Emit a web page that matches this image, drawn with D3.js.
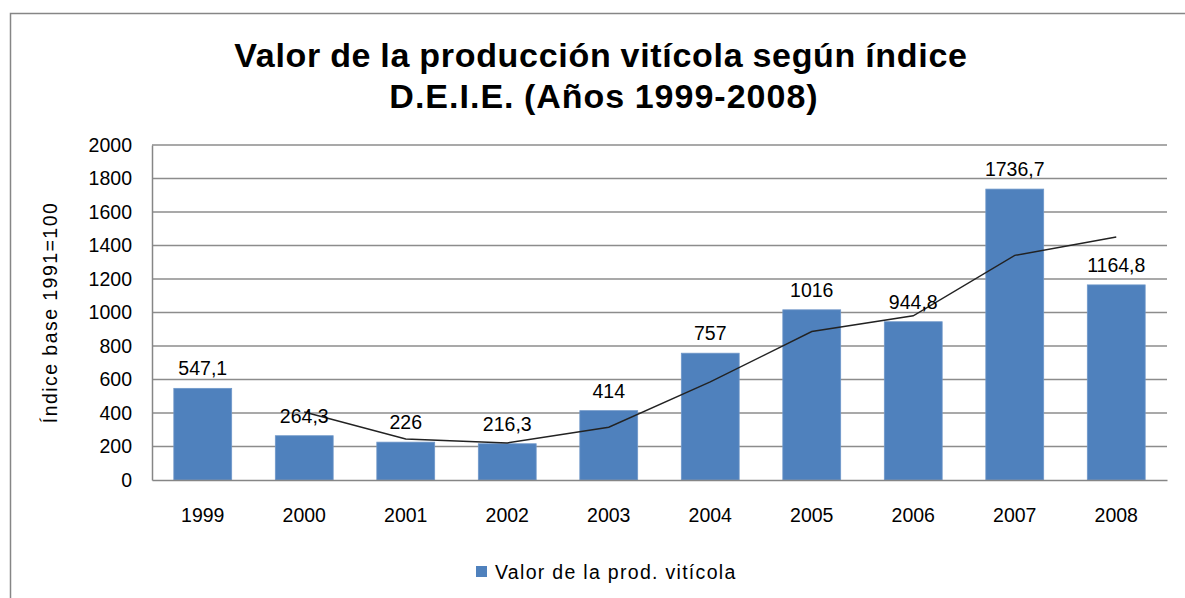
<!DOCTYPE html>
<html><head><meta charset="utf-8">
<script src="https://cdn.jsdelivr.net/npm/d3@7"></script>
<style>body{margin:0;background:#fff}svg{display:block;font-family:"Liberation Sans",Arial,sans-serif}</style>
</head><body><svg id="c" width="1185" height="598"></svg>
<script>
const years = ["1999","2000","2001","2002","2003","2004","2005","2006","2007","2008"];
const values = [547.1,264.3,226,216.3,414,757,1016,944.8,1736.7,1164.8];
const labels = ["547,1","264,3","226","216,3","414","757","1016","944,8","1736,7","1164,8"];
const trendYears = ["2000","2001","2002","2003","2004","2005","2006","2007","2008"];
const trendValues = [405.7,245.2,221.2,315.2,585.5,886.5,980.4,1340.8,1450.8];
const yTicks = [0,200,400,600,800,1000,1200,1400,1600,1800,2000];

const svg = d3.select("#c");
const m = {l:152, t:145, r:1167, b:480};
const FS = 19.5;
svg.append("rect").attr("x",10.5).attr("y",13.5).attr("width",1190).attr("height",600)
  .attr("fill","none").attr("stroke","#868686").attr("stroke-width",1.5);

const x = d3.scaleBand().domain(years).range([m.l,m.r]).paddingInner(0.43).paddingOuter(0.215);
const y = d3.scaleLinear().domain([0,2000]).range([m.b,m.t]);

// gridlines
svg.append("g").selectAll("line").data(yTicks.slice(1)).join("line")
  .attr("x1",m.l).attr("x2",m.r).attr("y1",d=>y(d)).attr("y2",d=>y(d))
  .attr("stroke","#8c8c8c").attr("stroke-width",1.3);

// bars
svg.append("g").selectAll("rect").data(values).join("rect")
  .attr("x",(d,i)=>x(years[i])).attr("width",x.bandwidth())
  .attr("y",d=>y(d)).attr("height",d=>y(0)-y(d))
  .attr("fill","#4F81BD").attr("stroke","#6f97c9").attr("stroke-width",0.8);

// axes
const ya = svg.append("g").attr("transform",`translate(${m.l},0)`)
  .call(d3.axisLeft(y).tickValues(yTicks).tickSize(0).tickPadding(20).tickFormat(d3.format("d")));
ya.select(".domain").attr("stroke","#868686").attr("stroke-width",1.5);
ya.selectAll("text").attr("font-size",FS).attr("fill","#000").attr("font-family","Liberation Sans, Arial");

const xa = svg.append("g").attr("transform",`translate(0,${m.b})`)
  .call(d3.axisBottom(x).tickSize(0).tickPadding(28));
xa.select(".domain").attr("stroke","#868686").attr("stroke-width",1.5);
xa.selectAll("text").attr("font-size",FS).attr("fill","#000").attr("font-family","Liberation Sans, Arial");

// trend line
const line = d3.line().x((d,i)=>x(trendYears[i])+x.bandwidth()/2).y(d=>y(d));
svg.append("path").datum(trendValues).attr("d",line).attr("fill","none")
  .attr("stroke","#222").attr("stroke-width",1.4);

// data labels
svg.append("g").selectAll("text").data(values).join("text")
  .attr("x",(d,i)=>x(years[i])+x.bandwidth()/2).attr("y",d=>y(d)-13)
  .attr("text-anchor","middle").attr("font-size",FS).attr("fill","#000")
  .text((d,i)=>labels[i]);

// y title
svg.append("text").attr("transform",`translate(57,${(m.t+m.b)/2}) rotate(-90)`)
  .attr("text-anchor","middle").attr("font-size",FS).attr("letter-spacing",1.45).attr("fill","#000")
  .text("Índice base 1991=100");

// title
const t = svg.append("text").attr("text-anchor","middle").attr("font-weight","bold")
  .attr("font-size",34).attr("letter-spacing",0.7).attr("word-spacing",-1).attr("fill","#000");
t.append("tspan").attr("x",601).attr("y",67).text("Valor de la producción vitícola según índice");
t.append("tspan").attr("x",604).attr("y",108).attr("letter-spacing",1).text("D.E.I.E. (Años 1999-2008)");

// legend
svg.append("rect").attr("x",476).attr("y",566).attr("width",11).attr("height",11).attr("fill","#4F81BD");
svg.append("text").attr("x",495).attr("y",579).attr("font-size",FS).attr("letter-spacing",1.3).attr("fill","#000")
  .text("Valor de la prod. vitícola");
</script></body></html>
